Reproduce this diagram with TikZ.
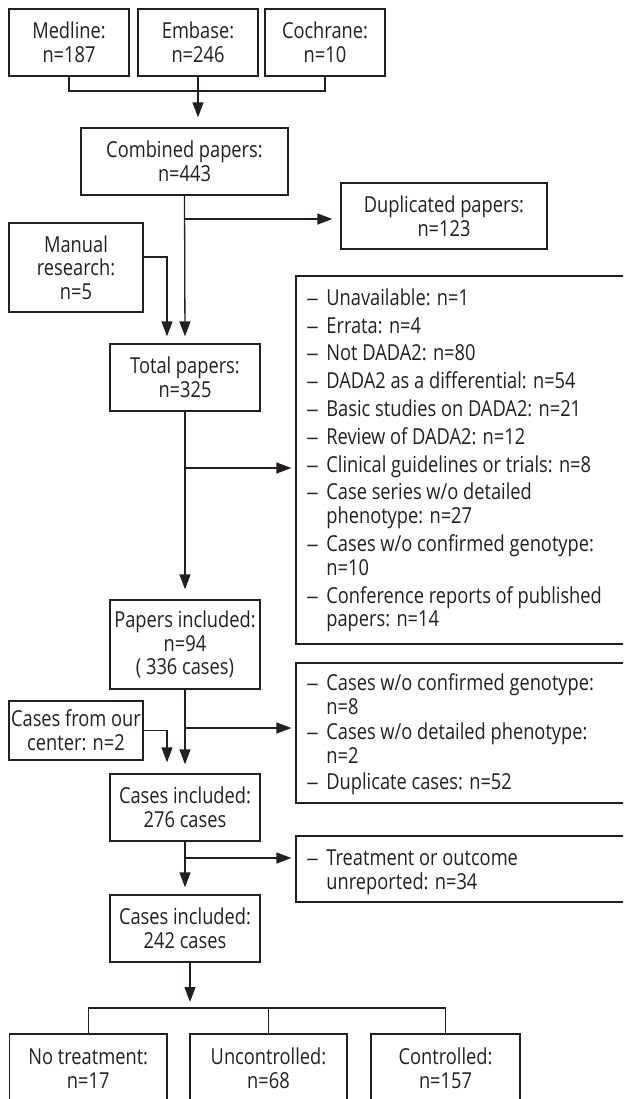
\documentclass[tikz,border=0pt]{standalone}
\usepackage{fontspec}
\setmainfont{Open Sans}[FakeStretch=0.83]
\newfontfamily\dashfont{Liberation Sans}[FakeStretch=0.85]
\usetikzlibrary{arrows.meta}
\definecolor{ink}{HTML}{231F20}
\begin{document}
\begin{tikzpicture}[x=0.5pt,y=-0.5pt,
  every node/.style={font=\fontsize{11}{11.8}\selectfont, text=ink},
  box/.style={draw=ink, line width=0.65pt, inner sep=0pt, align=center},
  ln/.style={draw=ink, line width=0.65pt},
  arr/.style={ln, -{Triangle[length=7.5pt,width=5.5pt]}},
  lst/.style={anchor=base west, inner sep=0pt, align=left}]
\useasboundingbox (0,0) rectangle (623,1099);
\clip (0,0) rectangle (623,1099);
\newcommand{\dl}{\makebox[9.5pt][l]{\dashfont –}}
% top sources
\node[box, minimum width=60pt, minimum height=33.5pt] (medline) at (69,42.5) {Medline:\\n=187};
\node[box, minimum width=60pt, minimum height=33.5pt] (embase) at (198,42.5) {Embase:\\n=246};
\node[box, minimum width=60pt, minimum height=33.5pt] (cochrane) at (325,42.5) {Cochrane:\\n=10};
\node[box, minimum width=103.5pt, minimum height=33.5pt] (combined) at (184.5,161.5) {Combined papers:\\n=443};
\node[box, minimum width=103pt, minimum height=33pt] (dup) at (444,216) {Duplicated papers:\\n=123};
\node[box, minimum width=67pt, minimum height=44.5pt] (manual) at (76,267.5) {Manual\\research:\\n=5};
\node[box, minimum width=75pt, minimum height=33.5pt] (total) at (185,377.5) {Total papers:\\n=325};
\node[box, minimum width=182pt, minimum height=184pt] (excl1) at (478,460) {};
\node[lst] (excl1t) at (307,305.5) {\begin{tabular}[t]{@{}l@{}}
\dl Unavailable: n=1\\[2pt]
\dl Errata: n=4\\[2pt]
\dl Not DADA2: n=80\\[2pt]
\dl DADA2 as a differential: n=54\\[2pt]
\dl Basic studies on DADA2: n=21\\[2pt]
\dl Review of DADA2: n=12\\[2pt]
\dl Clinical guidelines or trials: n=8\\[2pt]
\dl Case series w/o detailed\\
\hspace*{9.5pt}phenotype: n=27\\[2pt]
\dl Cases w/o confirmed genotype:\\
\hspace*{9.5pt}n=10\\[2pt]
\dl Conference reports of published\\
\hspace*{9.5pt}papers: n=14
\end{tabular}};
\node[box, minimum width=75pt, minimum height=44.5pt] (papers) at (185,644.5) {Papers included:\\n=94\\( 336 cases)};
\node[box, minimum width=67pt, minimum height=29.5pt] (center) at (76,730.5) {Cases from our\\center: n=2};
\node[box, minimum width=182pt, minimum height=70pt] (excl2) at (478,733) {};
\node[lst] (excl2t) at (307,690.5) {\begin{tabular}[t]{@{}l@{}}
\dl Cases w/o confirmed genotype:\\
\hspace*{9.5pt}n=8\\[1pt]
\dl Cases w/o detailed phenotype:\\
\hspace*{9.5pt}n=2\\[1pt]
\dl Duplicate cases: n=52
\end{tabular}};
\node[box, minimum width=75pt, minimum height=33.5pt] (cases1) at (185,807.5) {Cases included:\\276 cases};
\node[box, minimum width=182pt, minimum height=33pt] (excl3) at (478,869) {};
\node[lst] (excl3t) at (307,865.5) {\begin{tabular}[t]{@{}l@{}}
\dl Treatment or outcome\\
\hspace*{9.5pt}unreported: n=34
\end{tabular}};
\node[box, minimum width=75pt, minimum height=33.5pt] (cases2) at (185,928.5) {Cases included:\\242 cases};
\node[box, minimum width=78.75pt, minimum height=34.5pt] (notreat) at (88.25,1068.5) {No treatment:\\n=17};
\node[box, minimum width=78.5pt, minimum height=34.5pt] (uncontrolled) at (268.5,1068.5) {Uncontrolled:\\n=68};
\node[box, minimum width=74.5pt, minimum height=34.5pt] (controlled) at (445.5,1068.5) {Controlled:\\n=157};
% junctions
\coordinate (j1) at (198,91);
\coordinate (j2) at (185,219);
\coordinate (j3) at (185,468);
\coordinate (j4) at (185,728);
\coordinate (j5) at (185,858);
\coordinate (j6) at (190,1008);
% connectors
\draw[ln] (medline.south) -- (medline.south |- j1) -- (cochrane.south |- j1) -- (cochrane.south);
\draw[arr, shorten >=5pt] (embase.south) -- (embase.south |- combined.north);
\draw[arr, shorten >=3.5pt] (combined.south) -- (total.north);
\draw[arr, shorten >=4pt] (j2) -- (j2 -| dup.west);
\draw[arr, shorten >=3.5pt] ([yshift=5.25pt]manual.east) -| ([xshift=-9pt]total.north);
\draw[arr, shorten >=5pt] (total.south) -- (papers.north);
\draw[arr, shorten >=2pt] (j3) -- (j3 -| excl1.west);
\draw[arr, shorten >=5.5pt] (center.east) -| ([xshift=-9pt]cases1.north);
\draw[arr, shorten >=4.5pt] (papers.south) -- (cases1.north);
\draw[arr, shorten >=2pt] (j4) -- (j4 -| excl2.west);
\draw[arr, shorten >=3.5pt] (cases1.south) -- (cases2.north);
\draw[arr, shorten >=2pt] (j5) -- (j5 -| excl3.west);
\draw[arr, shorten >=3pt] (cases2.south -| j6) -- (j6);
\draw[ln] (notreat.north) -- (notreat.north |- j6) -- (controlled.north |- j6) -- (controlled.north);
\draw[ln] (uncontrolled.north) -- (uncontrolled.north |- j6);
\end{tikzpicture}
\end{document}
